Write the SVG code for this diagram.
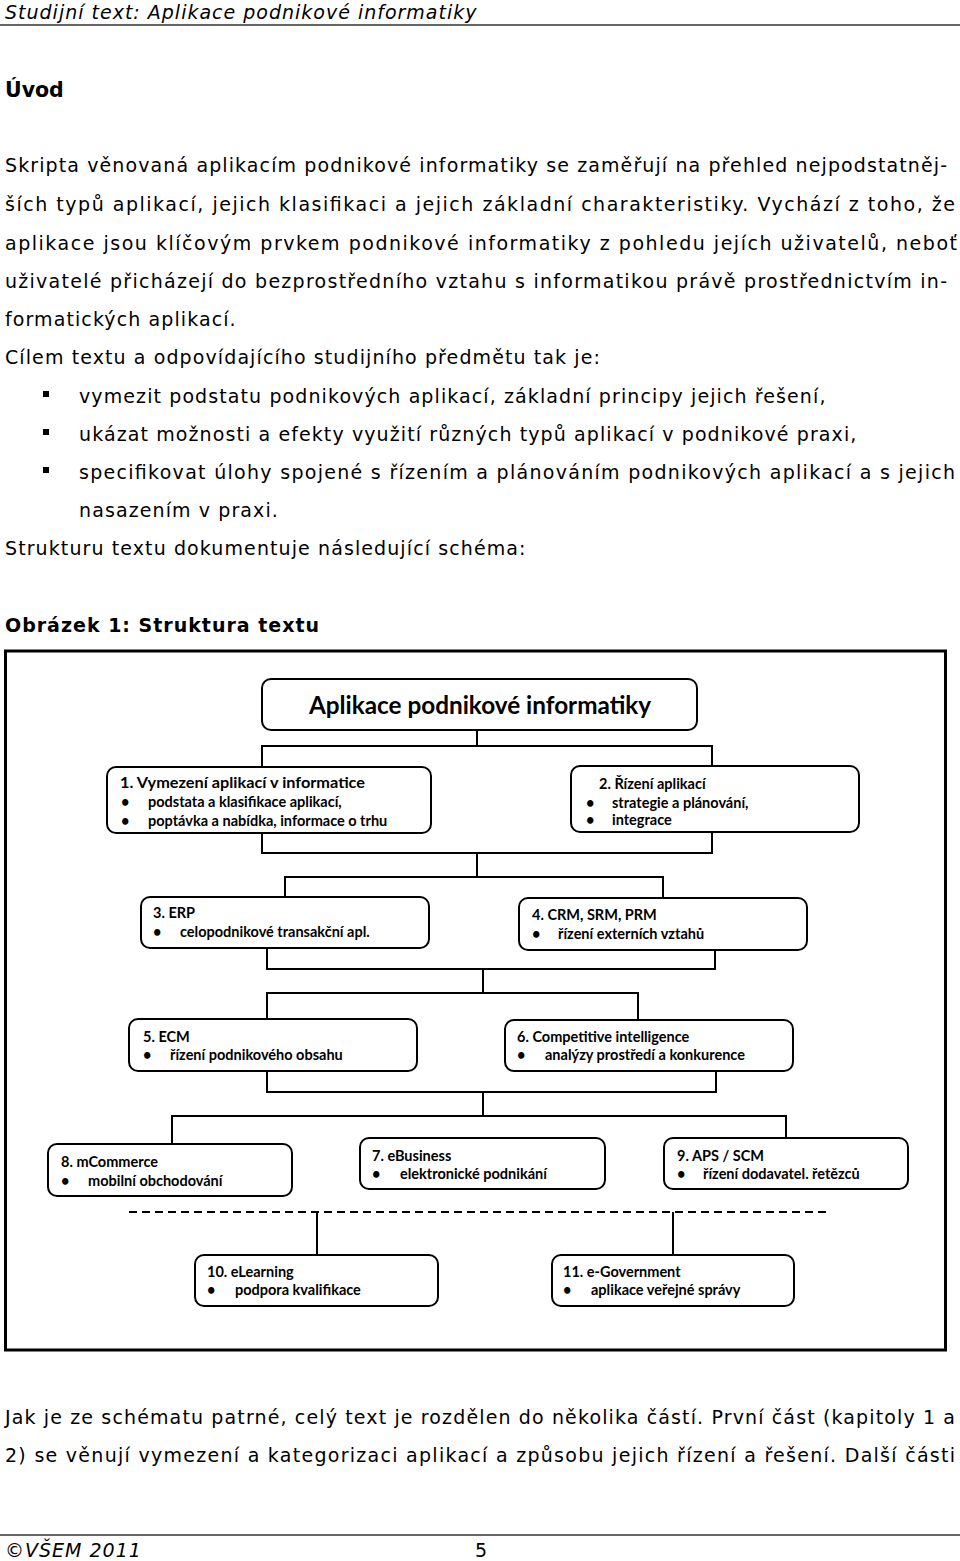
<svg xmlns="http://www.w3.org/2000/svg" width="960" height="1561" viewBox="0 0 960 1561">
<style>
.b{font-family:"DejaVu Sans",Verdana,sans-serif;font-size:19px;letter-spacing:1.1px;fill:#000}
.bj{font-family:"DejaVu Sans",Verdana,sans-serif;font-size:19px;fill:#000}
.bi{font-family:"DejaVu Sans",Verdana,sans-serif;font-size:19px;font-style:italic;letter-spacing:1px;fill:#000}
.bb{font-family:"DejaVu Sans",Verdana,sans-serif;font-weight:bold;fill:#000}
.box{fill:#fff;stroke:#000;stroke-width:2}
.t{font-family:Lato,"Open Sans",sans-serif;font-weight:bold;font-size:14.5px;fill:#000}
.tt{font-family:Lato,"Open Sans",sans-serif;font-weight:bold;font-size:24.3px;fill:#000}
.c{stroke:#000;stroke-width:2;fill:none}
.rule{stroke:#333;stroke-width:1.5}
</style>
<g id="page">
<text class="bi" x="5" y="19">Studijní text: Aplikace podnikové informatiky</text>
<line class="rule" x1="0" y1="25" x2="960" y2="25"/>
<text class="bb" x="5" y="97" font-size="20.5">Úvod</text>
<text class="bj" x="5" y="172" textLength="942" lengthAdjust="spacing">Skripta věnovaná aplikacím podnikové informatiky se zaměřují na přehled nejpodstatněj-</text>
<text class="bj" x="5" y="211" textLength="950" lengthAdjust="spacing">ších typů aplikací, jejich klasifikaci a jejich základní charakteristiky. Vychází z toho, že</text>
<text class="bj" x="5" y="250" textLength="952" lengthAdjust="spacing">aplikace jsou klíčovým prvkem podnikové informatiky z pohledu jejích uživatelů, neboť</text>
<text class="bj" x="5" y="288" textLength="942" lengthAdjust="spacing">uživatelé přicházejí do bezprostředního vztahu s informatikou právě prostřednictvím in-</text>
<text class="b" x="5" y="326">formatických aplikací.</text>
<text class="b" x="5" y="364">Cílem textu a odpovídajícího studijního předmětu tak je:</text>
<rect x="43" y="391" width="6" height="6"/>
<text class="b" x="79" y="403">vymezit podstatu podnikových aplikací, základní principy jejich řešení,</text>
<rect x="43" y="429" width="6" height="6"/>
<text class="b" x="79" y="441">ukázat možnosti a efekty využití různých typů aplikací v podnikové praxi,</text>
<rect x="43" y="467" width="6" height="6"/>
<text class="bj" x="79" y="479" textLength="876" lengthAdjust="spacing">specifikovat úlohy spojené s řízením a plánováním podnikových aplikací a s jejich</text>
<text class="b" x="79" y="517">nasazením v praxi.</text>
<text class="b" x="5" y="555">Strukturu textu dokumentuje následující schéma:</text>
<text class="bb" x="5" y="632" font-size="19" letter-spacing="1">Obrázek 1: Struktura textu</text>
<text class="bj" x="5" y="1424" textLength="950" lengthAdjust="spacing">Jak je ze schématu patrné, celý text je rozdělen do několika částí. První část (kapitoly 1 a</text>
<text class="bj" x="5" y="1462" textLength="950" lengthAdjust="spacing">2) se věnují vymezení a kategorizaci aplikací a způsobu jejich řízení a řešení. Další části</text>
<line class="rule" x1="0" y1="1535" x2="960" y2="1535"/>
<text class="bi" x="5" y="1557">©VŠEM 2011</text>
<text class="bj" x="475" y="1557">5</text>
</g>
<rect id="frame" x="5.5" y="651" width="940" height="699" fill="none" stroke="#000" stroke-width="3"/>
<g id="connectors">
<path class="c" d="M477,730 V746 M262,767 V746 H712 V766"/>
<path class="c" d="M262,833 V853 H712 V832 M477,853 V877 M285,897 V877 H663 V898"/>
<path class="c" d="M267,948 V969 H715 V950 M483,969 V993 M267,1019 V993 H638 V1020"/>
<path class="c" d="M267,1071 V1092 H716 V1071 M483,1092 V1116 M172,1144 V1116 H786 V1138"/>
<path class="c" d="M129,1212 H830" stroke-dasharray="8 5"/>
<path class="c" d="M317,1212 V1255 M673,1212 V1255"/>
</g>
<g id="n0">
<rect class="box" x="262" y="679" width="435" height="51" rx="9"/>
<text class="tt" x="480" y="714" text-anchor="middle">Aplikace podnikové informatiky</text>
</g>
<g id="n1">
<rect class="box" x="107" y="767" width="324" height="66" rx="9"/>
<text class="t" x="120" y="788" textLength="245" lengthAdjust="spacingAndGlyphs">1. Vymezení aplikací v informatice</text>
<text class="t" x="121" y="807">•</text><text class="t" x="148" y="807">podstata a klasifikace aplikací,</text>
<text class="t" x="121" y="826">•</text><text class="t" x="148" y="826">poptávka a nabídka, informace o trhu</text>
</g>
<g id="n2">
<rect class="box" x="571" y="766" width="288" height="66" rx="9"/>
<text class="t" x="599" y="789" font-size="13">2. Řízení aplikací</text>
<text class="t" x="586" y="808">•</text><text class="t" x="612" y="808">strategie a plánování,</text>
<text class="t" x="586" y="825">•</text><text class="t" x="612" y="825">integrace</text>
</g>
<g id="n3">
<rect class="box" x="141" y="897" width="288" height="51" rx="9"/>
<text class="t" x="153" y="918">3. ERP</text>
<text class="t" x="153" y="937">•</text><text class="t" x="180" y="937">celopodnikové transakční apl.</text>
</g>
<g id="n4">
<rect class="box" x="519" y="898" width="288" height="52" rx="9"/>
<text class="t" x="532" y="920">4. CRM, SRM, PRM</text>
<text class="t" x="532" y="939">•</text><text class="t" x="558" y="939">řízení externích vztahů</text>
</g>
<g id="n5">
<rect class="box" x="129" y="1019" width="288" height="52" rx="9"/>
<text class="t" x="143" y="1042">5. ECM</text>
<text class="t" x="143" y="1060">•</text><text class="t" x="170" y="1060">řízení podnikového obsahu</text>
</g>
<g id="n6">
<rect class="box" x="505" y="1020" width="288" height="51" rx="9"/>
<text class="t" x="517" y="1042">6. Competitive intelligence</text>
<text class="t" x="517" y="1060">•</text><text class="t" x="545" y="1060">analýzy prostředí a konkurence</text>
</g>
<g id="n8">
<rect class="box" x="48" y="1144" width="244" height="52" rx="9"/>
<text class="t" x="61" y="1167">8. mCommerce</text>
<text class="t" x="61" y="1186">•</text><text class="t" x="88" y="1186">mobilní obchodování</text>
</g>
<g id="n7">
<rect class="box" x="360" y="1138" width="245" height="51" rx="9"/>
<text class="t" x="372" y="1161">7. eBusiness</text>
<text class="t" x="372" y="1179">•</text><text class="t" x="400" y="1179">elektronické podnikání</text>
</g>
<g id="n9">
<rect class="box" x="664" y="1138" width="244" height="51" rx="9"/>
<text class="t" x="677" y="1161">9. APS / SCM</text>
<text class="t" x="677" y="1179">•</text><text class="t" x="703" y="1179">řízení dodavatel. řetězců</text>
</g>
<g id="n10">
<rect class="box" x="195" y="1255" width="243" height="51" rx="9"/>
<text class="t" x="207" y="1277">10. eLearning</text>
<text class="t" x="207" y="1295">•</text><text class="t" x="235" y="1295">podpora kvalifikace</text>
</g>
<g id="n11">
<rect class="box" x="552" y="1255" width="242" height="51" rx="9"/>
<text class="t" x="563" y="1277">11. e-Government</text>
<text class="t" x="563" y="1295">•</text><text class="t" x="591" y="1295">aplikace veřejné správy</text>
</g>
</svg>
